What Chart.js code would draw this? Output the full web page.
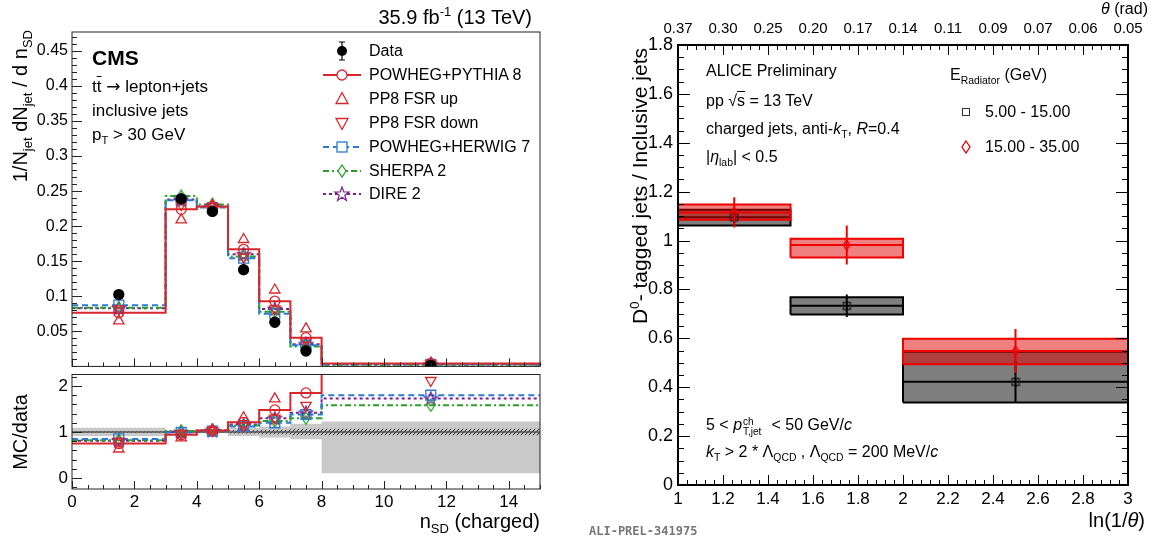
<!DOCTYPE html>
<html>
<head>
<meta charset="utf-8">
<title>n_SD and D0-tagged jets</title>
<script src="https://cdn.jsdelivr.net/npm/chart.js"></script>
<style>
  html, body { margin: 0; padding: 0; background: #fff; }
  #page { position: relative; width: 1161px; height: 542px; overflow: hidden; font-family: "Liberation Sans", Arial, sans-serif; color: #000; }
  #page canvas { position: absolute; }
  .t { position: absolute; white-space: nowrap; line-height: 1; }
  .t sub, .t sup, .vt sub, .vt sup, .leg sub { font-size: 65%; line-height: 0; }
  .vt { position: absolute; white-space: nowrap; transform-origin: 0 0; transform: rotate(-90deg); }
  .leg { position: absolute; left: 320px; height: 22px; display: flex; align-items: center; font-size: 16px; white-space: nowrap; }
  .leg svg { width: 44px; height: 22px; margin-right: 5px; }
  .ov { text-decoration: overline; }
  .arrow { font-family: "DejaVu Sans", sans-serif; }
  .ss { position: relative; display: inline-block; width: 25px; height: 0; }
  .ss span { position: absolute; left: 1px; font-size: 10px; line-height: 1; }
  .ss .up { top: -13px; }
  .ss .dn { top: -3px; }
</style>
</head>
<body>
<div id="page">
  <canvas id="cmsMain" width="560" height="380" style="left:0;top:0"></canvas>
  <canvas id="cmsRatio" width="560" height="160" style="left:0;top:360px"></canvas>
  <canvas id="alice" width="561" height="542" style="left:600px;top:0"></canvas>

  <!-- CMS labels -->
  <div class="t" style="right:629px;top:7px;font-size:20px">35.9 fb<sup>-1</sup> (13 TeV)</div>
  <div class="t" style="left:92px;top:47px;font-size:21px;font-weight:bold">CMS</div>
  <div class="t" style="left:92px;top:78px;font-size:17px">t<span class="ov">t</span> <span class="arrow">&rarr;</span> lepton+jets</div>
  <div class="t" style="left:92px;top:102px;font-size:17px">inclusive jets</div>
  <div class="t" style="left:92px;top:126px;font-size:17px">p<sub>T</sub> &gt; 30 GeV</div>
  <div class="vt" style="left:8px;top:330px;width:300px;text-align:right;font-size:20px;line-height:24px">1/N<sub>jet</sub> dN<sub>jet</sub> / d n<sub>SD</sub></div>
  <div class="vt" style="left:8px;top:532px;width:200px;text-align:center;font-size:20px;line-height:24px">MC/data</div>
  <div class="t" style="right:621px;top:511px;font-size:20px">n<sub>SD</sub> (charged)</div>

  <div class="leg" style="top:40px"><svg viewBox="0 0 44 22"><line x1="22" y1="2" x2="22" y2="20" stroke="#000" stroke-width="1.2"/><line x1="19" y1="2" x2="25" y2="2" stroke="#000"/><line x1="19" y1="20" x2="25" y2="20" stroke="#000"/><circle cx="22" cy="11" r="5" fill="#000"/></svg>Data</div>
  <div class="leg" style="top:63.5px"><svg viewBox="0 0 44 22"><line x1="3" y1="11" x2="41" y2="11" stroke="#d9262b" stroke-width="2"/><circle cx="22" cy="11" r="5" fill="#fff" stroke="#d9262b" stroke-width="1.3"/></svg>POWHEG+PYTHIA 8</div>
  <div class="leg" style="top:87.5px"><svg viewBox="0 0 44 22"><path d="M22 4.5 L28 15.5 L16 15.5 Z" fill="none" stroke="#d9262b" stroke-width="1.3"/></svg>PP8 FSR up</div>
  <div class="leg" style="top:111.5px"><svg viewBox="0 0 44 22"><path d="M22 17.5 L28 6.5 L16 6.5 Z" fill="none" stroke="#d9262b" stroke-width="1.3"/></svg>PP8 FSR down</div>
  <div class="leg" style="top:135.5px"><svg viewBox="0 0 44 22"><line x1="3" y1="11" x2="41" y2="11" stroke="#2a7bd4" stroke-width="2" stroke-dasharray="6 4"/><rect x="17" y="6" width="10" height="10" fill="#fff" stroke="#2a7bd4" stroke-width="1.3"/></svg>POWHEG+HERWIG 7</div>
  <div class="leg" style="top:159.5px"><svg viewBox="0 0 44 22"><line x1="3" y1="11" x2="41" y2="11" stroke="#26a326" stroke-width="2" stroke-dasharray="6 3 2 3"/><path d="M22 5 L26 11 L22 17 L18 11 Z" fill="#fff" stroke="#26a326" stroke-width="1.3"/></svg>SHERPA 2</div>
  <div class="leg" style="top:183px"><svg viewBox="0 0 44 22"><line x1="3" y1="11" x2="41" y2="11" stroke="#7a1e8c" stroke-width="2" stroke-dasharray="3 3"/><path d="M22 4 L23.8 9 L29 9 L24.8 12.2 L26.4 17.4 L22 14.2 L17.6 17.4 L19.2 12.2 L15 9 L20.2 9 Z" fill="#fff" stroke="#7a1e8c" stroke-width="1.2"/></svg>DIRE 2</div>

  <!-- ALICE labels -->
  <div class="t" style="right:13px;top:1px;font-size:16px"><i>&theta;</i> (rad)</div>
  <div class="vt" style="left:627px;top:448px;width:400px;text-align:right;font-size:21px;line-height:25px">D<sup>0</sup>- tagged jets / Inclusive jets</div>
  <div class="t" style="right:16px;top:510px;font-size:20px">ln(1/<i>&theta;</i>)</div>
  <div class="t" style="left:706px;top:63px;font-size:16px">ALICE Preliminary</div>
  <div class="t" style="left:706px;top:93px;font-size:16px">pp &radic;<span class="ov">s</span> = 13 TeV</div>
  <div class="t" style="left:706px;top:121px;font-size:16px">charged jets, anti-<i>k</i><sub>T</sub>, <i>R</i>=0.4</div>
  <div class="t" style="left:706px;top:149px;font-size:16px">|<i>&eta;</i><sub>lab</sub>| &lt; 0.5</div>
  <div class="t" style="left:950px;top:67px;font-size:16px">E<sub>Radiator</sub> (GeV)</div>
  <div style="position:absolute;left:962px;top:108px;width:6px;height:6px;border:1.3px solid #333"></div>
  <div class="t" style="left:985px;top:104px;font-size:16px">5.00 - 15.00</div>
  <svg style="position:absolute;left:960px;top:140px" width="12" height="14" viewBox="0 0 12 14"><path d="M6 1 L10 7 L6 13 L2 7 Z" fill="none" stroke="#e00000" stroke-width="1.3"/></svg>
  <div class="t" style="left:985px;top:139px;font-size:16px">15.00 - 35.00</div>
  <div class="t" style="left:706px;top:417px;font-size:16px">5 &lt; <i>p</i><span class="ss"><span class="up">ch</span><span class="dn">T,jet</span></span> &lt; 50 GeV/<i>c</i></div>
  <div class="t" style="left:706px;top:444px;font-size:16px"><i>k</i><sub>T</sub> &gt; 2 * &Lambda;<sub>QCD</sub> , &Lambda;<sub>QCD</sub> = 200 MeV/<i>c</i></div>
  <div class="t" style="left:589px;top:525px;font-size:12px;font-family:'DejaVu Sans Mono',monospace;font-weight:bold;color:#777">ALI-PREL-341975</div>
</div>

<script>
const FONT = '"Liberation Sans", Arial, sans-serif';
const RED = '#d9262b', BLUE = '#2a7bd4', GREEN = '#26a326', PURPLE = '#7a1e8c';

// CMS: n_SD (charged) distribution, bins and values
const binEdges = [0, 3, 4, 5, 6, 7, 8, 15];
const binCenters = [1.5, 3.5, 4.5, 5.5, 6.5, 7.5, 11.5];
const dataVals = [0.1024, 0.239, 0.221, 0.138, 0.063, 0.022, 0.0016];
const dataErr = [0.006, 0.004, 0.005, 0.008, 0.004, 0.003, 0.0005];
const pp8Vals = [0.0765, 0.224, 0.228, 0.167, 0.093, 0.041, 0.0042];
const fsrUpVals = [0.065, 0.209, 0.230, 0.181, 0.109, 0.0535, 0.0046];
const fsrDownVals = [0.082, 0.231, 0.228, 0.156, 0.082, 0.035, 0.0034];
const herwigVals = [0.0874, 0.237, 0.2266, 0.1544, 0.0751, 0.0302, 0.0029];
const sherpaVals = [0.0836, 0.243, 0.231, 0.1567, 0.0779, 0.0283, 0.0025];
const direVals = [0.083, 0.238, 0.228, 0.160, 0.082, 0.0316, 0.0028];

// CMS: MC/data ratio panel
const ratioPP8 = [0.75, 0.94, 1.03, 1.21, 1.48, 1.85, 2.6];
const ratioUp = [0.63, 0.87, 1.04, 1.31, 1.72, 2.45, 2.9];
const ratioDown = [0.80, 0.96, 1.03, 1.13, 1.30, 1.58, 2.12];
const ratioHerwig = [0.85, 0.99, 1.02, 1.12, 1.20, 1.38, 1.80];
const ratioSherpa = [0.82, 1.02, 1.04, 1.14, 1.24, 1.30, 1.58];
const ratioDire = [0.81, 1.00, 1.03, 1.16, 1.30, 1.42, 1.73];
const bandLo = [0.91, 0.96, 0.97, 0.91, 0.88, 0.84, 0.10];
const bandHi = [1.09, 1.04, 1.03, 1.09, 1.12, 1.18, 1.23];
const hatchLo = [0.985, 0.99, 0.99, 0.965, 0.95, 0.93, 0.93];
const hatchHi = [1.015, 1.01, 1.01, 1.035, 1.05, 1.07, 1.07];

const mainYTicks = [0.05, 0.1, 0.15, 0.2, 0.25, 0.3, 0.35, 0.4, 0.45];
const ratioYTicks = [0, 1, 2];
const nsdTicks = [0, 2, 4, 6, 8, 10, 12, 14];

// ALICE: D0-tagged / inclusive vs ln(1/theta)
const lnEdges = [1, 1.5, 2, 3];
const lnCenters = [1.25, 1.75, 2.5];
const lowVals = [1.095, 0.733, 0.422];
const lowStat = [0.025, 0.046, 0.085];
const lowSysLo = [1.062, 0.698, 0.337];
const lowSysHi = [1.126, 0.768, 0.545];
const highVals = [1.115, 0.982, 0.548];
const highStat = [0.062, 0.08, 0.09];
const highSysLo = [1.085, 0.931, 0.494];
const highSysHi = [1.147, 1.007, 0.598];
const lnTicks = [1, 1.2, 1.4, 1.6, 1.8, 2, 2.2, 2.4, 2.6, 2.8, 3];
const thetaLabels = ['0.37', '0.30', '0.25', '0.20', '0.17', '0.14', '0.11', '0.09', '0.07', '0.06', '0.05'];
const aliceYTicks = [0, 0.2, 0.4, 0.6, 0.8, 1, 1.2, 1.4, 1.6, 1.8];

function range(a, b, s) {
  const out = [];
  for (let v = a; v <= b + 1e-9; v += s) out.push(+v.toFixed(4));
  return out;
}
const steps = (edges, vals) => edges.map((x, i) => ({ x, y: vals[Math.min(i, vals.length - 1)] }));
const pts = (xs, ys) => xs.map((x, i) => ({ x, y: ys[i] }));

function markerCanvas(w, h, draw) {
  const c = document.createElement('canvas');
  c.width = w; c.height = h;
  draw(c.getContext('2d'), w, h);
  return c;
}
const diamond = (color, w, h) => markerCanvas(w + 2, h + 2, g => {
  g.strokeStyle = color; g.lineWidth = 1.3;
  g.beginPath();
  g.moveTo(1 + w / 2, 1); g.lineTo(1 + w, 1 + h / 2); g.lineTo(1 + w / 2, 1 + h); g.lineTo(1, 1 + h / 2);
  g.closePath(); g.stroke();
});
const starImg = markerCanvas(16, 16, g => {
  g.strokeStyle = PURPLE; g.lineWidth = 1.2;
  g.beginPath();
  for (let k = 0; k < 10; k++) {
    const r = k % 2 ? 3 : 7, a = -Math.PI / 2 + k * Math.PI / 5;
    const px = 8 + r * Math.cos(a), py = 8.5 + r * Math.sin(a);
    k ? g.lineTo(px, py) : g.moveTo(px, py);
  }
  g.closePath(); g.stroke();
});
function hatchPattern() {
  const c = document.createElement('canvas');
  c.width = 4; c.height = 4;
  const g = c.getContext('2d');
  g.strokeStyle = '#222'; g.lineWidth = 1;
  g.beginPath();
  g.moveTo(0, 4); g.lineTo(4, 0);
  g.moveTo(-1, 1); g.lineTo(1, -1);
  g.moveTo(3, 5); g.lineTo(5, 3);
  g.stroke();
  return g.createPattern(c, 'repeat');
}

// inward ROOT-like ticks and frame, drawn through the chart scales
const rootFrame = {
  id: 'rootFrame',
  afterDraw(chart, args, opts) {
    const { ctx, chartArea: a, scales } = chart;
    ctx.save();
    ctx.strokeStyle = opts.color || '#000';
    ctx.lineWidth = 1;
    (opts.ticks || []).forEach(t => {
      const sc = scales[t.scale];
      ctx.beginPath();
      t.values.forEach(v => {
        const p = Math.round(sc.getPixelForValue(v)) + 0.5;
        if (t.side === 'left') { ctx.moveTo(a.left, p); ctx.lineTo(a.left + t.len, p); }
        if (t.side === 'right') { ctx.moveTo(a.right, p); ctx.lineTo(a.right - t.len, p); }
        if (t.side === 'bottom') { ctx.moveTo(p, a.bottom); ctx.lineTo(p, a.bottom - t.len); }
        if (t.side === 'top') { ctx.moveTo(p, a.top); ctx.lineTo(p, a.top + t.len); }
      });
      ctx.stroke();
    });
    ctx.lineWidth = opts.frameWidth || 1;
    ctx.strokeRect(a.left, a.top, a.right - a.left, a.bottom - a.top);
    ctx.restore();
  }
};

const errorBars = {
  id: 'errorBars',
  afterDatasetsDraw(chart, args, opts) {
    const { ctx, scales } = chart;
    ctx.save();
    (opts.sets || []).forEach(s => {
      ctx.strokeStyle = s.color;
      ctx.lineWidth = s.width || 1.5;
      ctx.beginPath();
      s.xs.forEach((x, i) => {
        const px = scales.x.getPixelForValue(x);
        ctx.moveTo(px, scales.y.getPixelForValue(s.ys[i] - s.errs[i]));
        ctx.lineTo(px, scales.y.getPixelForValue(s.ys[i] + s.errs[i]));
      });
      ctx.stroke();
    });
    ctx.restore();
  }
};

function yAxis(min, max, ticks, width, size, pad) {
  return {
    type: 'linear', min, max,
    afterBuildTicks: s => { s.ticks = ticks.map(v => ({ value: v })); },
    afterFit: s => { s.width = width; },
    grid: { display: false, drawTicks: false },
    border: { display: false },
    ticks: { color: '#000', font: { family: FONT, size }, padding: pad, callback: v => String(v) }
  };
}

// histogram: horizontal at each bin value, vertical jump at the next edge
function hist(vals, color, dash, order, extra) {
  return Object.assign({
    data: steps(binEdges, vals), stepped: 'before', borderColor: color, borderWidth: 2,
    borderDash: dash, pointRadius: 0, fill: false, order
  }, extra);
}
function markers(xs, ys, style, color, radius, extra) {
  return Object.assign({
    data: pts(xs, ys), showLine: false, pointStyle: style, pointRadius: radius,
    pointBorderColor: color, pointBackgroundColor: 'rgba(0,0,0,0)', pointBorderWidth: 1.3, order: 1
  }, extra);
}

const commonOpts = {
  responsive: false, animation: false, devicePixelRatio: 1,
  events: [],
  plugins: { legend: { display: false }, tooltip: { enabled: false }, filler: { drawTime: 'beforeDatasetDraw' } }
};

// ---- CMS main panel ----
new Chart(document.getElementById('cmsMain'), {
  type: 'line',
  data: {
    datasets: [
      markers(binCenters, dataVals, 'circle', '#000', 5, { pointBackgroundColor: '#000', order: 0 }),
      markers(binCenters, pp8Vals, 'circle', RED, 5),
      markers(binCenters, fsrUpVals, 'triangle', RED, 6),
      markers(binCenters, fsrDownVals, 'triangle', RED, 6, { pointRotation: 180 }),
      markers(binCenters, herwigVals, 'rect', BLUE, 7),
      markers(binCenters, sherpaVals, diamond(GREEN, 8, 12), GREEN, 6),
      markers(binCenters, direVals, starImg, PURPLE, 7),
      hist(pp8Vals, RED, [], 4),
      hist(herwigVals, BLUE, [6, 4], 5),
      hist(sherpaVals, GREEN, [6, 3, 2, 3], 6),
      hist(direVals, PURPLE, [3, 3], 7)
    ]
  },
  options: Object.assign({}, commonOpts, {
    layout: { autoPadding: false, padding: { left: 12, right: 20, top: 32, bottom: 11 } },
    scales: {
      x: { type: 'linear', min: 0, max: 15, display: false },
      y: yAxis(0, 0.477, mainYTicks, 60, 16, 4)
    },
    plugins: Object.assign({}, commonOpts.plugins, {
      rootFrame: {
        color: '#222',
        ticks: [
          { scale: 'y', side: 'left', values: mainYTicks, len: 10 },
          { scale: 'y', side: 'left', values: range(0, 0.47, 0.01), len: 5 },
          { scale: 'x', side: 'bottom', values: nsdTicks, len: 8 },
          { scale: 'x', side: 'bottom', values: range(0, 15, 0.5), len: 4 }
        ]
      },
      errorBars: { sets: [{ xs: binCenters, ys: dataVals, errs: dataErr, color: '#000', width: 1.5 }] }
    })
  }),
  plugins: [rootFrame, errorBars]
});

// ---- CMS ratio panel ----
const hatch = hatchPattern();
const band = (vals, fill, color, order) => ({
  data: steps(binEdges, vals), stepped: 'before', borderWidth: 0, pointRadius: 0,
  fill, backgroundColor: color, order
});
new Chart(document.getElementById('cmsRatio'), {
  type: 'line',
  data: {
    datasets: [
      band(bandHi, '+1', '#c9c9c9', 50),
      band(bandLo, false, '#c9c9c9', 51),
      band(hatchHi, '+1', hatch, 40),
      band(hatchLo, false, hatch, 41),
      { data: [{ x: 0, y: 1 }, { x: 15, y: 1 }], borderColor: '#555', borderWidth: 1.5, pointRadius: 0, order: 35 },
      hist(ratioPP8, RED, [], 10, { clip: 0 }),
      hist(ratioHerwig, BLUE, [6, 4], 11, { clip: 0 }),
      hist(ratioSherpa, GREEN, [6, 3, 2, 3], 12, { clip: 0 }),
      hist(ratioDire, PURPLE, [3, 3], 13, { clip: 0 }),
      markers(binCenters, ratioPP8, 'circle', RED, 5, { clip: 0 }),
      markers(binCenters, ratioUp, 'triangle', RED, 6, { clip: 0 }),
      markers(binCenters, ratioDown, 'triangle', RED, 6, { clip: 0, pointRotation: 180 }),
      markers(binCenters, ratioHerwig, 'rect', BLUE, 7, { clip: 0 }),
      markers(binCenters, ratioSherpa, diamond(GREEN, 8, 12), GREEN, 6, { clip: 0 }),
      markers(binCenters, ratioDire, starImg, PURPLE, 7, { clip: 0 })
    ]
  },
  options: Object.assign({}, commonOpts, {
    layout: { autoPadding: false, padding: { left: 12, right: 20, top: 14.5, bottom: 0 } },
    scales: {
      x: {
        type: 'linear', min: 0, max: 15,
        afterBuildTicks: s => { s.ticks = nsdTicks.map(v => ({ value: v })); },
        afterFit: s => { s.height = 31; },
        grid: { display: false, drawTicks: false },
        border: { display: false },
        ticks: { color: '#000', font: { family: FONT, size: 17 }, padding: 3, maxRotation: 0, autoSkip: false, callback: v => String(v) }
      },
      y: yAxis(-0.24, 2.25, ratioYTicks, 60, 17, 4)
    },
    plugins: Object.assign({}, commonOpts.plugins, {
      rootFrame: {
        color: '#222',
        ticks: [
          { scale: 'y', side: 'left', values: ratioYTicks, len: 10 },
          { scale: 'y', side: 'left', values: range(-0.2, 2.2, 0.2), len: 5 },
          { scale: 'x', side: 'bottom', values: nsdTicks, len: 8 },
          { scale: 'x', side: 'bottom', values: range(0, 15, 0.5), len: 4 }
        ]
      }
    })
  }),
  plugins: [rootFrame]
});

// ---- ALICE panel ----
function boxes(lo, hi, fillColor, lineColor, order) {
  return lnCenters.map((c, i) => ({
    data: [
      { x: lnEdges[i], y: lo[i] }, { x: lnEdges[i], y: hi[i] },
      { x: lnEdges[i + 1], y: hi[i] }, { x: lnEdges[i + 1], y: lo[i] }, { x: lnEdges[i], y: lo[i] }
    ],
    fill: 'shape', backgroundColor: fillColor, borderColor: lineColor, borderWidth: 2,
    pointRadius: 0, order
  }));
}
function centerLines(vals, color, order) {
  const data = [];
  vals.forEach((v, i) => {
    data.push({ x: lnEdges[i], y: v }, { x: lnEdges[i + 1], y: v }, { x: lnEdges[i + 1], y: null });
  });
  return { data, borderColor: color, borderWidth: 2, pointRadius: 0, fill: false, spanGaps: false, order };
}
const blackSquare = markerCanvas(10, 10, g => {
  g.strokeStyle = '#222'; g.lineWidth = 1.5; g.strokeRect(1.5, 1.5, 7, 7);
});

new Chart(document.getElementById('alice'), {
  type: 'line',
  data: {
    datasets: [
      ...boxes(lowSysLo, lowSysHi, 'rgba(0,0,0,0.5)', '#000', 30),
      centerLines(lowVals, '#000', 29),
      ...boxes(highSysLo, highSysHi, 'rgba(225,0,0,0.5)', '#f00000', 20),
      centerLines(highVals, '#f00000', 19),
      { data: pts(lnCenters, lowVals), showLine: false, pointStyle: blackSquare, pointRadius: 5, order: 2 },
      { data: pts(lnCenters, highVals), showLine: false, pointStyle: diamond('#f00000', 7, 10), pointRadius: 5, order: 1 }
    ]
  },
  options: Object.assign({}, commonOpts, {
    layout: { autoPadding: false, padding: { left: 8, right: 33, top: 0, bottom: 0 } },
    scales: {
      x: {
        type: 'linear', min: 1, max: 3, position: 'bottom',
        afterBuildTicks: s => { s.ticks = lnTicks.map(v => ({ value: v })); },
        afterFit: s => { s.height = 57; },
        grid: { display: false, drawTicks: false },
        border: { display: false },
        ticks: { color: '#000', font: { family: FONT, size: 17 }, padding: 4, maxRotation: 0, autoSkip: false, callback: v => String(v) }
      },
      x2: {
        type: 'linear', min: 1, max: 3, position: 'top',
        afterBuildTicks: s => { s.ticks = lnTicks.map(v => ({ value: v })); },
        afterFit: s => { s.height = 45; },
        grid: { display: false, drawTicks: false },
        border: { display: false },
        ticks: { color: '#000', font: { family: FONT, size: 15 }, padding: 7, maxRotation: 0, autoSkip: false, callback: (v, i) => thetaLabels[i] }
      },
      y: yAxis(0, 1.8, aliceYTicks, 70, 18, 5)
    },
    plugins: Object.assign({}, commonOpts.plugins, {
      rootFrame: {
        color: '#000', frameWidth: 2,
        ticks: [
          { scale: 'y', side: 'left', values: aliceYTicks, len: 12 },
          { scale: 'y', side: 'left', values: range(0, 1.8, 0.05), len: 6 },
          { scale: 'y', side: 'right', values: aliceYTicks, len: 12 },
          { scale: 'y', side: 'right', values: range(0, 1.8, 0.05), len: 6 },
          { scale: 'x', side: 'bottom', values: lnTicks, len: 10 },
          { scale: 'x', side: 'bottom', values: range(1, 3, 0.04), len: 5 },
          { scale: 'x2', side: 'top', values: lnTicks, len: 10 },
          { scale: 'x2', side: 'top', values: range(1, 3, 0.04), len: 5 }
        ]
      },
      errorBars: {
        sets: [
          { xs: lnCenters, ys: lowVals, errs: lowStat, color: '#000', width: 2 },
          { xs: lnCenters, ys: highVals, errs: highStat, color: '#f00000', width: 2 }
        ]
      }
    })
  }),
  plugins: [rootFrame, errorBars]
});
</script>
</body>
</html>
